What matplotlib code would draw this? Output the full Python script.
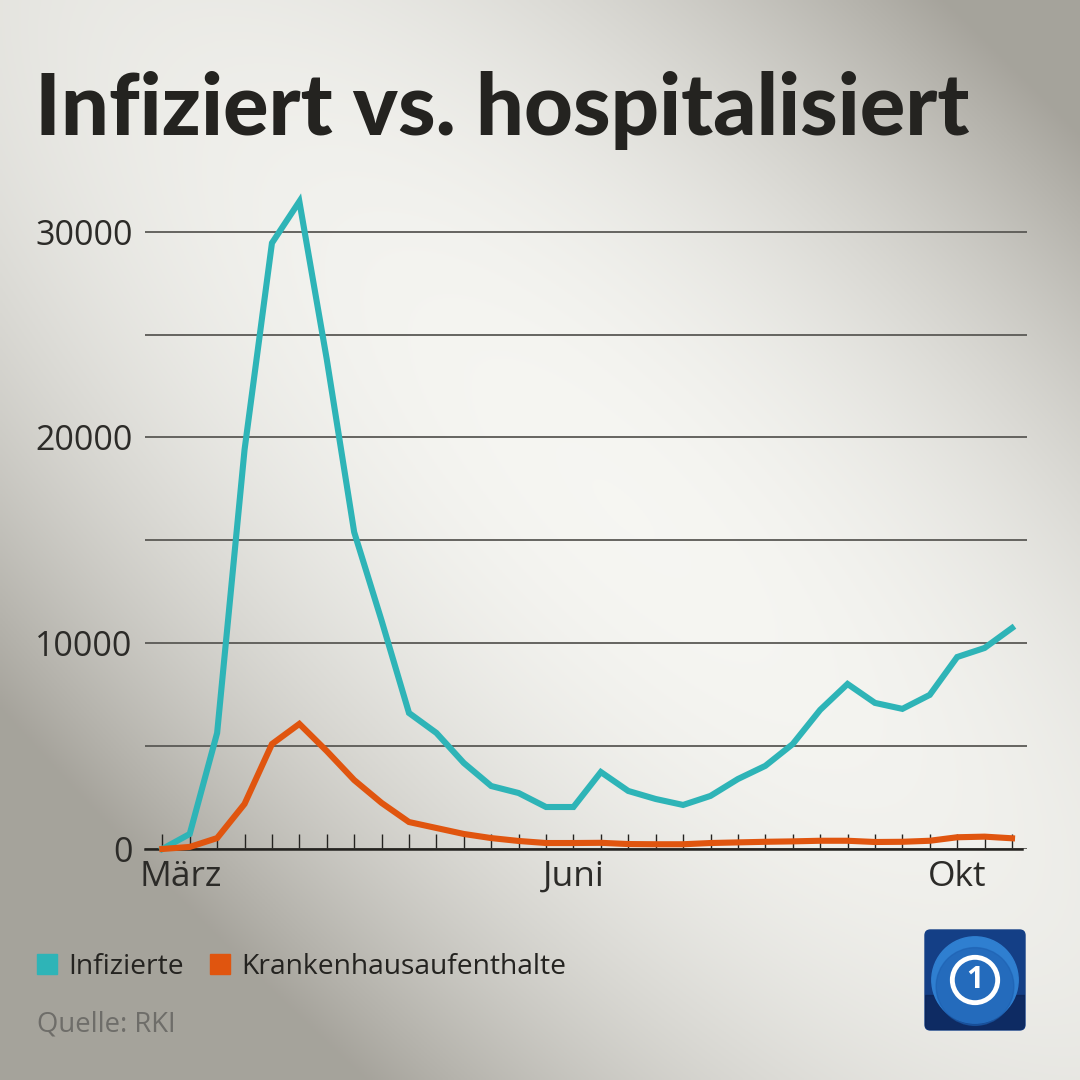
import numpy as np
import matplotlib.pyplot as plt
from matplotlib.patches import FancyBboxPatch, Circle, Rectangle
from matplotlib.ticker import FixedLocator

# weekly values, early March to mid October
weeks = list(range(32))
infizierte = [0, 730, 5640, 19400, 29450, 31470, 23800, 15400, 11100, 6610,
              5640, 4180, 3060, 2720, 2040, 2040, 3740, 2820, 2430, 2140,
              2580, 3400, 4040, 5100, 6760, 8020, 7100, 6810, 7490, 9330,
              9770, 10740]
krankenhaus = [0, 100, 530, 2190, 5100, 6080, 4760, 3350, 2240, 1310,
               1020, 730, 530, 390, 290, 290, 300, 240, 230, 230,
               290, 320, 350, 370, 400, 400, 340, 350, 400, 570,
               600, 520]
month_pos = [0.68, 15, 29]
month_labels = ["März", "Juni", "Okt"]
ytick_vals = [0, 5000, 10000, 15000, 20000, 25000, 30000]
ytick_labels = ["0", "", "10000", "", "20000", "", "30000"]

teal = "#2eb4b7"
orange = "#e0550f"
dark = "#242320"
font = "Open Sans"

fig = plt.figure(figsize=(10.8, 10.8), dpi=100)

# background sheen
bg = fig.add_axes([0, 0, 1, 1])
yy, xx = np.mgrid[0:1:400j, 0:1:400j]
d = (xx - 0.15) - (yy - 0.05)
r = np.sqrt((xx - 0.6) ** 2 + (yy - 0.45) ** 2)
light = np.clip(1 - 1.5 * d ** 2 - 0.35 * r ** 2, 0, 1)
c_dark = np.array([0.65, 0.64, 0.61])
c_light = np.array([0.965, 0.965, 0.95])
img = c_dark + (c_light - c_dark) * light[..., None]
bg.imshow(img, extent=[0, 1, 0, 1], aspect="auto", origin="upper")
bg.set_xlim(0, 1)
bg.set_ylim(0, 1)
bg.axis("off")

ax = fig.add_axes([0.1343, 0.2139, 0.8167, 0.6287])
ax.patch.set_alpha(0)
ax.plot(weeks, infizierte, color=teal, lw=4.4, solid_joinstyle="miter", clip_on=False, zorder=4)
ax.plot(weeks, krankenhaus, color=orange, lw=4.4, solid_joinstyle="miter", clip_on=False, zorder=5)

ax.set_xlim(-0.63, 31.55)
ax.set_ylim(0, 33000)
ax.set_yticks(ytick_vals)
ax.set_yticklabels(ytick_labels, fontfamily=font, fontsize=24.5, color="#2c2b28")
ax.yaxis.grid(True, color="#5a5955", lw=1.3)
ax.tick_params(axis="y", length=0, pad=9)
ax.set_axisbelow(True)

ax.xaxis.remove_overlapping_locs = False
ax.set_xticks(weeks)
ax.set_xticklabels([])
ax.tick_params(axis="x", which="major", direction="in", length=11, width=1.0, color=dark)
ax.xaxis.set_minor_locator(FixedLocator(month_pos))
ax.set_xticklabels(month_labels, minor=True, fontfamily=font, fontsize=25.5, color="#2c2b28")
ax.tick_params(axis="x", which="minor", length=0, pad=8)

for s in ["top", "right", "left"]:
    ax.spines[s].set_visible(False)
ax.spines["bottom"].set_color(dark)
ax.spines["bottom"].set_linewidth(1.8)
ax.spines["bottom"].set_bounds(-0.63, 31.35)

title = fig.text(0.032, 1 - 135 / 1080, "Infiziert vs. hospitalisiert", fontfamily="Lato",
                 fontweight="black", fontsize=66, color=dark, va="baseline")
# fit title width to the reference (about 935 px)
fig.canvas.draw()
w = title.get_window_extent().width
title.set_fontsize(66 * 935 / w)

# legend
fs = 20.3
fig.patches.append(Rectangle((37 / 1080, 1 - 974 / 1080), 20 / 1080, 20 / 1080,
                             transform=fig.transFigure, color=teal))
fig.text(68 / 1080, 1 - 974 / 1080, "Infizierte", fontfamily=font, fontsize=fs,
         color=dark, va="baseline")
fig.patches.append(Rectangle((210 / 1080, 1 - 974 / 1080), 20 / 1080, 20 / 1080,
                             transform=fig.transFigure, color=orange))
fig.text(241 / 1080, 1 - 974 / 1080, "Krankenhausaufenthalte", fontfamily=font,
         fontsize=fs, color=dark, va="baseline")
fig.text(37 / 1080, 1 - 1031 / 1080, "Quelle: RKI", fontfamily=font, fontsize=19.8,
         color="#6e6d69", va="baseline")

# logo
lx, ly, lw_ = 925 / 1080, 1 - 1030 / 1080, 100 / 1080
box = FancyBboxPatch((lx, ly), lw_, lw_, boxstyle="round,pad=0,rounding_size=0.005",
                     transform=fig.transFigure, color="#143f86", zorder=1)
fig.patches.append(box)
shade = Rectangle((lx, ly), lw_, lw_ * 0.35, transform=fig.transFigure,
                  color="#0b1f4d", alpha=0.6, zorder=1)
shade.set_clip_path(box)
fig.patches.append(shade)
cx, cy = lx + lw_ / 2, ly + lw_ / 2
fig.patches.append(Circle((cx, cy), 0.040, transform=fig.transFigure, color="#2f7fd0", zorder=2))
fig.patches.append(Circle((cx, cy - 0.006), 0.036, transform=fig.transFigure,
                          color="#1d5fb0", alpha=0.6, zorder=2))
fig.patches.append(Circle((cx, cy), 0.021, transform=fig.transFigure, fill=False,
                          ec="white", lw=3.5, zorder=3))
fig.text(cx, cy, "1", fontfamily=font, fontweight="bold", fontsize=22, color="white",
         ha="center", va="center", zorder=4)

fig.savefig("out.png", dpi=100)
